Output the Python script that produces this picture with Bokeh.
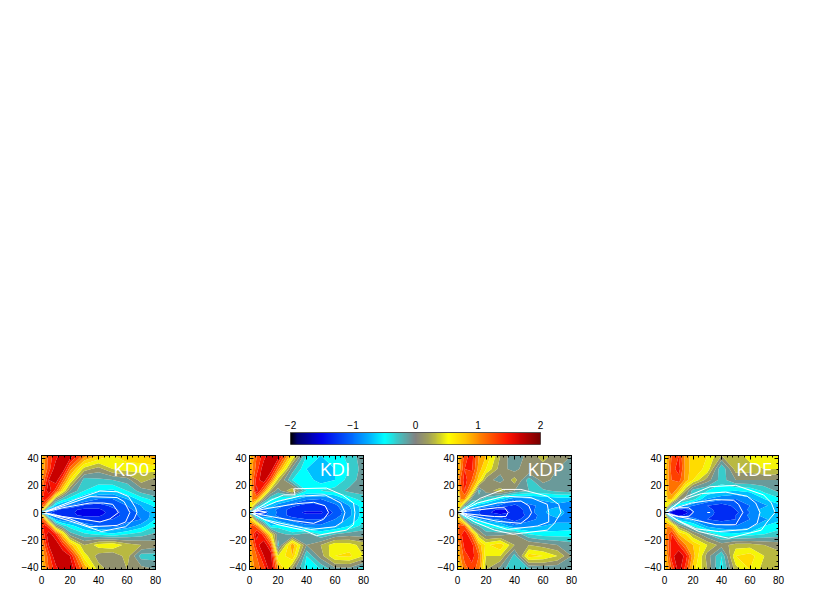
import numpy as np
from bokeh.plotting import figure
from bokeh.layouts import column, row
from bokeh.models import Range1d, LinearAxis, FixedTicker, Spacer, LinearColorMapper
from bokeh.core.properties import value
from bokeh.embed import file_html
from bokeh.resources import INLINE

X_GRID = [0, 2, 5, 10, 15, 20, 30, 40, 50, 60, 70, 80]
Y_GRID = [42, 32, 24, 16, 10, 5, 2, 0, -2, -5, -10, -16, -24, -32, -42]

KD0 = [
 [.7,.9,1.3,1.5,1.8,1.75,1.1,.8,.6,.7,.8,.9],
 [.8,1.0,1.3,1.75,1.75,1.1,.3,.1,.4,.5,.45,.5],
 [.9,1.2,1.6,1.75,1.2,.6,-.3,-.25,-.2,-.1,.3,.1],
 [1.1,1.4,1.75,1.3,.6,.0,-.4,-.6,-.65,-.4,-.1,.0],
 [1.3,1.5,1.3,.1,-.3,-.5,-.8,-1.0,-1.0,-.8,-.5,-.3],
 [1.2,1.1,.2,-.7,-.9,-1.0,-1.25,-1.3,-1.15,-1.0,-.8,-.55],
 [.8,.2,-.9,-1.15,-1.3,-1.35,-1.45,-1.45,-1.25,-1.1,-.85,-.6],
 [-2,-.8,-1.15,-1.3,-1.35,-1.35,-1.5,-1.5,-1.3,-1.1,-.95,-.7],
 [.8,.2,-.9,-1.15,-1.3,-1.35,-1.45,-1.45,-1.25,-1.15,-.95,-.7],
 [1.2,1.0,.1,-.8,-1.0,-1.05,-1.25,-1.3,-1.2,-1.05,-1.0,-.6],
 [1.3,1.5,1.3,.1,-.3,-.5,-.8,-1.0,-1.05,-.95,-.7,-.4],
 [1.1,1.4,1.75,1.4,.7,-.1,-.35,-.45,-.55,-.4,-.3,-.15],
 [.9,1.2,1.6,1.8,1.4,.9,.2,.5,.6,.3,.2,.1],
 [.8,1.0,1.3,1.8,1.8,1.6,.5,.1,.0,.3,-.3,-.3],
 [.7,.9,1.2,1.5,1.8,1.8,1.0,.3,.1,.2,.1,.0],
]
KDI = [
 [.7,.9,1.2,1.5,1.8,1.75,.6,-.4,-.6,-.55,-.3,-.1],
 [.8,1.0,1.3,1.75,1.75,1.1,-.1,-.6,-.7,-.6,-.4,-.1],
 [.8,1.1,1.5,1.75,1.2,.3,-.4,-.5,-.7,-.6,-.3,-.1],
 [.4,1.0,1.7,1.1,.2,-.1,.4,-.4,-.4,-.3,-.15,-.1],
 [-.1,1.1,1.0,.1,-.4,-.5,-.7,-.95,-1.0,-.85,-.5,-.3],
 [.5,.6,-.1,-.6,-.7,-.9,-1.15,-1.3,-1.25,-1.05,-.8,-.5],
 [.7,.0,-1.0,-1.05,-.9,-1.05,-1.3,-1.35,-1.35,-1.1,-.85,-.5],
 [-2,-.8,-1.35,-1.35,-.8,-1.05,-1.3,-1.45,-1.45,-1.15,-.85,-.5],
 [.7,.0,-1.0,-1.05,-.9,-1.05,-1.3,-1.35,-1.35,-1.1,-.85,-.5],
 [.8,.6,-.1,-.6,-.7,-.9,-1.1,-1.2,-1.2,-1.0,-.75,-.5],
 [1.1,1.3,1.1,.2,-.6,-.5,-.7,-.95,-.95,-.85,-.6,-.3],
 [1.1,1.3,1.7,1.3,.5,-.1,-.3,-.1,-.4,-.2,-.1,-.1],
 [.9,1.1,1.5,1.8,1.3,-.3,.95,.0,.2,.55,.5,.3],
 [.8,1.0,1.2,1.6,1.75,.4,.8,-.4,.1,.6,.65,.4],
 [.7,.9,1.1,1.3,1.75,1.0,.1,-.5,-.4,-.1,-.1,-.4],
]
KDP = [
 [.7,.9,1.3,1.5,1.0,.8,.2,-.2,.1,.3,.1,.0],
 [.8,1.0,1.4,1.45,.9,.6,.1,-.1,.2,.1,.0,-.1],
 [.9,1.2,1.5,1.2,.7,.1,-.1,.3,-.3,.1,-.1,-.1],
 [.5,1.1,1.4,.8,-.3,.1,.3,.0,-.2,-.25,-.15,-.1],
 [-.2,1.0,1.0,-.1,-.1,-.3,-.6,-.95,-.85,-.75,-.7,-.7],
 [.7,.7,-.1,-.5,-.7,-.8,-1.05,-1.25,-1.05,-.95,-.85,-1.0],
 [.7,.0,-1.0,-1.05,-1.15,-1.3,-1.45,-1.35,-1.1,-.85,-.7,-1.0],
 [.0,-.6,-1.15,-1.2,-1.2,-1.35,-1.5,-1.35,-1.1,-.85,-.6,-1.0],
 [.7,.0,-1.0,-1.05,-1.15,-1.3,-1.35,-1.35,-1.15,-.9,-.7,-1.0],
 [.8,.7,-.1,-.5,-.8,-.9,-1.05,-1.3,-1.05,-.95,-.85,-.9],
 [1.1,1.3,1.2,.0,-.2,-.4,-.6,-.95,-.9,-.8,-.75,-.7],
 [1.1,1.3,1.6,1.1,.2,-.1,-.1,.0,-.4,-.5,-.5,-.5],
 [.9,1.1,1.5,1.5,.9,.55,.75,.2,.2,.1,.0,-.1],
 [.8,1.0,1.3,1.5,1.2,.4,.4,-.3,.7,.6,.4,.0],
 [.6,.8,1.1,1.3,1.1,.2,-.1,-.4,-.3,-.2,-.2,-.1],
]
KDE = [
 [.6,.8,1.2,1.4,.9,.7,.6,.2,.3,.5,.5,.5],
 [.7,.9,1.3,1.5,.9,.7,.55,-.4,.3,.3,.4,.4],
 [.7,.9,1.2,1.3,.9,.6,.1,-.3,.0,.0,.0,.0],
 [.4,.9,1.2,.8,.2,-.3,-.4,-.55,-.6,-.55,-.35,-.15],
 [-.1,.8,.8,.1,-.1,-.3,-.8,-.95,-1.0,-.85,-.6,-.45],
 [.5,.5,-.2,-.6,-.8,-1.0,-1.2,-1.3,-1.15,-1.0,-.85,-.65],
 [.6,-.2,-1.2,-1.5,-1.3,-1.15,-1.1,-1.35,-1.2,-.95,-.7,-.6],
 [-.1,-1.0,-1.5,-1.6,-1.5,-1.2,-1.05,-1.35,-1.25,-1.0,-.7,-.6],
 [.6,-.2,-1.2,-1.5,-1.3,-1.15,-1.1,-1.35,-1.2,-.95,-.7,-.6],
 [.6,.5,-.2,-.7,-.8,-.9,-1.2,-1.3,-1.2,-1.0,-.85,-.65],
 [.9,1.0,.9,.1,-.2,-.4,-.85,-.95,-1.0,-.9,-.6,-.5],
 [.9,1.1,1.4,.8,.6,.2,-.2,-.5,-.55,-.5,-.4,-.3],
 [.9,1.1,1.5,1.4,1.0,.8,.4,.1,.3,.3,.2,.1],
 [.8,1.0,1.5,1.8,1.5,.9,.1,-.4,.6,.7,.4,.3],
 [.7,.9,1.2,1.7,1.3,.7,.2,-.5,.3,.6,.3,.3],
]

# White contours: list of (x, y) outlines, each closed at the origin
KD0_LINES = [
 ([1,25,41,53,61,66,67,65,59,42,25,1],[0,10,15.8,15.3,11.8,3.5,0,-4.7,-10.5,-14,-8,0]),
 ([1,18,34,53,58,62,59,53,34,20,1],[0,5.8,11.7,11,8,0,-7,-9.5,-10.5,-4.7,0]),
 ([1,15,34,43.5,50,54,48,41,32,15,1],[0,3.5,7,7,6,0,-4.7,-7,-5.4,-3,0]),
]
KDI_LINES = [
 ([1,15,24,32,31,54,65,73,74,73,68,47,38,20,12,1],[0,9,13,13,17.5,18,13,7,0,-9,-13,-17,-13,-9,-6,0]),
 ([1,19,35,53,64,67,65,60,43,22,10,1],[0,8,12,13,7,0,-7,-10.5,-12.5,-8,-5,0]),
 ([1,10,33,45,53,55.5,52,45,31,10,1],[0,2.5,6.5,7.5,5,0,-5,-8,-6,-2,0]),
 ([2,6,12,6,2],[0,1.2,.3,-1,0]),
]
KDP_LINES = [
 ([1,16,32,44.5,63,71,72.6,68,63,39,26,12,1],[0,10.5,17,17,12,6,0,-8,-13,-16,-13,-7,0]),
 ([1,14,33,51.5,63,64,64,56,35,12,1],[0,7,12,11,6,0,-7,-10,-12.5,-5,0]),
 ([1,9,28,44.5,50,52,50,44.5,28,10,1],[0,2.5,7,8.5,5,0,-3.5,-8,-6.5,-2.5,0]),
 ([2,7,28,33,35.5,34,26,7,2],[0,1,3.5,3.5,0,-3,-3,-1,0]),
]
KDE_LINES = [
 ([1,16,32,50,69.5,75,77.6,72,68,45,24,10,1],[0,12,19,20,13,7,0,-7,-13,-19,-14,-6.5,0]),
 ([1,12,26,43,58,64,67,65,58,38,22,8,1],[0,9,14,15,12,7,0,-8,-12.5,-14,-12,-5,0]),
 ([1,5,19,36,48.5,52,55,50,36,19,5,1],[0,2.5,7,9.5,9,6,0,-9,-9,-5,-2,0]),
 ([2,10,17,20.5,17,10,2],[.5,3.5,3.5,.5,-3,-3,-.5]),
 ([30,32],[0,0]),
]

NAMES = ["KD0", "KDI", "KDP", "KDE"]
NAME_X = [63, 60, 62, 63]
FIELDS = [KD0, KDI, KDP, KDE]
LINES = [KD0_LINES, KDI_LINES, KDP_LINES, KDE_LINES]
X_TICKS = [0, 20, 40, 60, 80]
Y_TICKS = [-40, -20, 0, 20, 40]
BAR_TICKS = [-2, -1, 0, 1, 2]

# colour table
STOP_V = [-2, -1.9, -1.5, -1, -.75, -.5, -.25, 0, .2, .4, .53, .8, 1.0, 1.47, 1.7, 2]
STOP_R = [0, 0, 0, 0, 0, 0, 70, 130, 160, 210, 255, 255, 255, 255, 200, 120]
STOP_G = [0, 0, 0, 110, 175, 255, 190, 130, 160, 210, 255, 200, 140, 20, 0, 0]
STOP_B = [0, 110, 235, 255, 255, 255, 190, 130, 90, 40, 0, 0, 0, 0, 0, 0]

def colour(v):
    return "#%02x%02x%02x" % tuple(int(round(float(np.interp(v, STOP_V, s)))) for s in (STOP_R, STOP_G, STOP_B))

levels = np.linspace(-2, 2, 21)
band_colours = [colour((a + b) / 2) for a, b in zip(levels[:-1], levels[1:])]
FONT = "Liberation Sans"
LABEL_SIZE = "10px"

def mirror(p, major, minor, where):
    for ticks, length in ((major, 4), (minor, 2)):
        ax = LinearAxis(ticker=FixedTicker(ticks=[], minor_ticks=ticks))
        ax.major_tick_in = 0; ax.major_tick_out = 0
        ax.minor_tick_in = length; ax.minor_tick_out = 0
        ax.minor_tick_line_color = "black"
        ax.axis_line_color = "black"
        p.add_layout(ax, where)

def panel(name, name_x, field, lines):
    p = figure(width=157, height=139, output_backend="svg", toolbar_location=None,
               x_range=Range1d(0, 80), y_range=Range1d(-42, 42), tools="",
               min_border_left=33, min_border_right=10, min_border_top=5, min_border_bottom=20,
               x_axis_type=None, y_axis_type=None)
    p.grid.visible = False
    z = np.array(field, dtype=float)[::-1]
    yy = np.array(Y_GRID, dtype=float)[::-1]
    p.contour(np.array(X_GRID, dtype=float), yy, z, levels=levels, fill_color=band_colours)
    for lx, ly in lines:
        p.line(lx, ly, line_color="white", line_width=1)
    p.text([name_x], [32], text=[name], text_color="white", text_font=value("Open Sans"),
           text_font_size="19px", text_align="center", text_baseline="middle")
    xminor = list(range(0, 81, 4))
    yminor = list(range(-40, 41, 4))
    for where, major, minor in (("below", X_TICKS, xminor), ("left", Y_TICKS, yminor)):
        ax = LinearAxis(ticker=FixedTicker(ticks=major, minor_ticks=minor))
        ax.major_tick_in = 4; ax.major_tick_out = 0
        ax.minor_tick_in = 2; ax.minor_tick_out = 0
        ax.major_tick_line_color = "black"; ax.minor_tick_line_color = "black"
        ax.major_label_text_font = FONT
        ax.major_label_text_font_size = LABEL_SIZE
        ax.major_label_text_color = "black"
        ax.major_label_standoff = 6 if where == "below" else 3
        ax.axis_line_color = "black"
        if where == "left":
            ax.major_label_orientation = "horizontal"
        p.add_layout(ax, where)
    mirror(p, X_TICKS, xminor, "above")
    mirror(p, Y_TICKS, yminor, "right")
    p.outline_line_color = "black"
    p.background_fill_color = "white"
    return p

figs = [panel(n, nx, f, l) for n, nx, f, l in zip(NAMES, NAME_X, FIELDS, LINES)]

# colour bar
bar = figure(width=270, height=35, output_backend="svg", toolbar_location=None, tools="",
             x_range=Range1d(-2, 2), y_range=Range1d(0, 1),
             min_border_left=10, min_border_right=10, min_border_top=17, min_border_bottom=6,
             x_axis_type=None, y_axis_type=None)
bar.grid.visible = False
ramp = np.linspace(-2, 2, 256)
mapper = LinearColorMapper(palette=[colour(v) for v in ramp], low=-2, high=2)
bar.image(image=[ramp[None, :]], x=-2, y=0, dw=4, dh=1, color_mapper=mapper)
bax = LinearAxis(ticker=FixedTicker(ticks=BAR_TICKS))
bax.major_tick_in = 0; bax.major_tick_out = 0; bax.minor_tick_in = 0; bax.minor_tick_out = 0
bax.major_label_text_font = FONT
bax.major_label_text_font_size = LABEL_SIZE
bax.major_label_text_color = "black"
bax.major_label_standoff = 4
bax.axis_line_color = "#555555"
bar.add_layout(bax, "above")
bar.outline_line_color = "#555555"

bar_row = row(Spacer(width=280, height=35), bar, spacing=0)
panel_row = row(Spacer(width=8, height=139), figs[0], Spacer(width=51, height=139), figs[1],
                Spacer(width=51, height=139), figs[2], Spacer(width=50, height=139), figs[3], spacing=0)
page = column(Spacer(width=780, height=415), bar_row, panel_row, spacing=0)

open("out.html", "w").write(file_html(page, INLINE))
